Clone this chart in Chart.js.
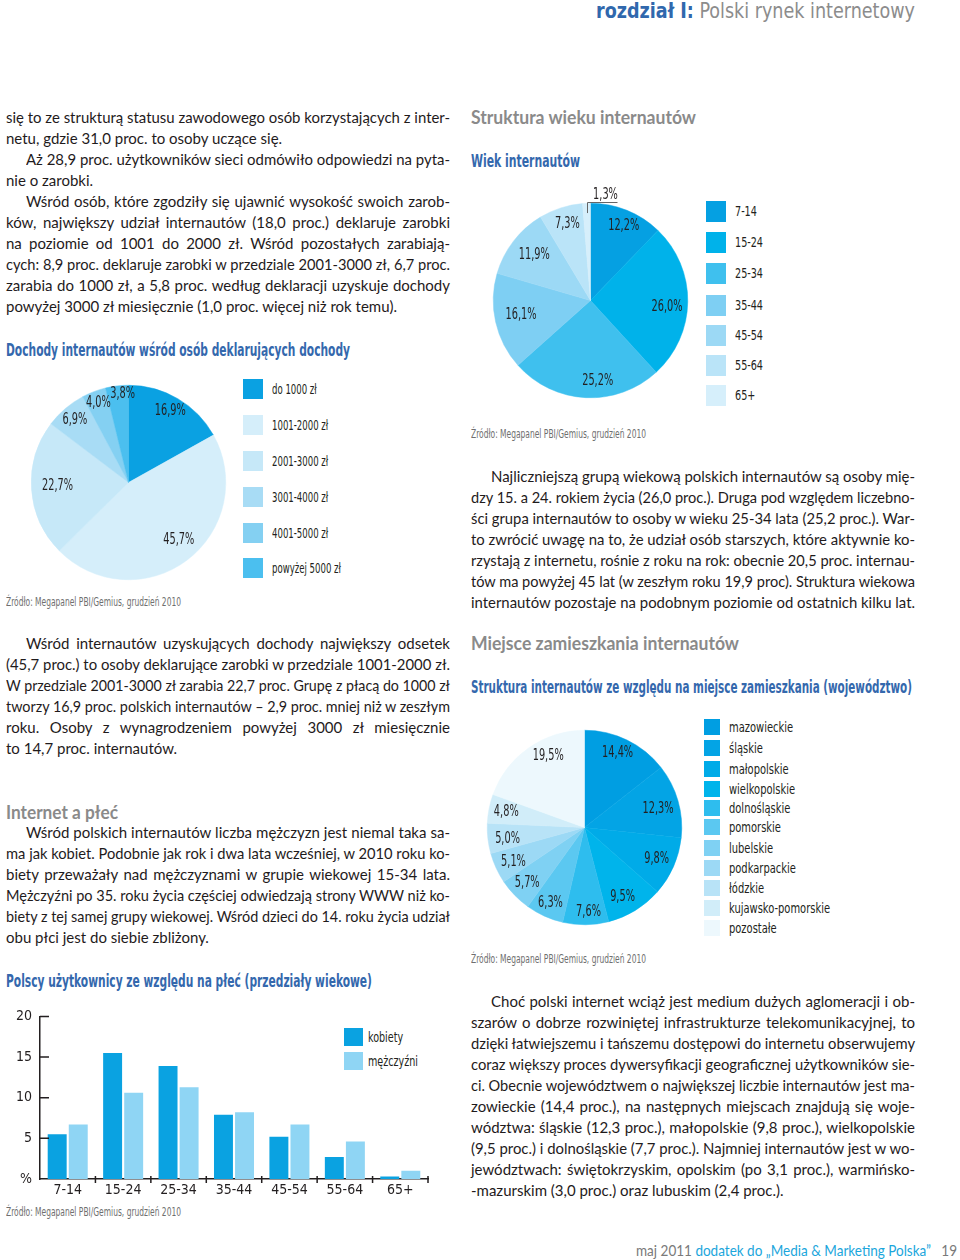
<!DOCTYPE html>
<html lang="pl"><head><meta charset="utf-8">
<script src="https://cdn.jsdelivr.net/npm/chart.js@4.4.1/dist/chart.umd.min.js"></script>
<style>
html,body{margin:0;padding:0;background:#fff}
body{width:960px;height:1260px;position:relative;overflow:hidden;font-family:Lato,'Open Sans',sans-serif;color:#231f20}
.t{position:absolute;white-space:nowrap;transform-origin:0 50%;line-height:1.3}
.body{font-size:15px;line-height:21px;color:#1f1b1c}
.cond{font-family:var(--cf)}
.title{font-family:var(--cf);font-weight:700;font-size:18px;color:#3468ad}
.head{font-family:Lato,sans-serif;font-weight:700;font-size:18px;color:#8a8a8a}
.src{font-family:var(--cf);font-size:12px;color:#6f6f6f}
.leg{font-family:var(--cf);font-size:14px;color:#231f20}
.sw{position:absolute}
canvas{position:absolute}
</style></head>
<body>
<script>
// ---------------- DATA ----------------
const incomeLabels = ['do 1000 zł','1001-2000 zł','2001-3000 zł','3001-4000 zł','4001-5000 zł','powyżej 5000 zł'];
const incomeValues = [16.9, 45.7, 22.7, 6.9, 4.0, 3.8];

const ageLabels = ['7-14','15-24','25-34','35-44','45-54','55-64','65+'];
const ageValues = [12.2, 26.0, 25.2, 16.1, 11.9, 7.3, 1.3];

const regionLabels = ['mazowieckie','śląskie','małopolskie','wielkopolskie','dolnośląskie','pomorskie','lubelskie','podkarpackie','łódzkie','kujawsko-pomorskie','pozostałe'];
const regionValues = [14.4, 12.3, 9.8, 9.5, 7.6, 6.3, 5.7, 5.1, 5.0, 4.8, 19.5];

const genderCategories = ['7-14','15-24','25-34','35-44','45-54','55-64','65+'];
const genderSeries = ['kobiety','mężczyźni'];
const womenValues = [5.5, 15.5, 13.9, 7.9, 5.2, 2.7, 0.3];
const menValues   = [6.7, 10.6, 11.3, 8.2, 6.7, 4.6, 1.0];
const genderYMax = 20, genderYStep = 5;

// ---------------- STYLES ----------------
const incomeColors = ['#0aa1e2','#d5eefa','#c6e8f8','#a8dcf5','#84d0f2','#4bbfef'];
const incomeLabelR = [0.85, 0.79, 0.73, 0.85, 0.87, 0.91];
const incomeLabelDA = [0, -4, 1, 0, 0, 3];
const ageColors = ['#05a0e2','#00b2ea','#3fc0ee','#7ecff3','#9cd9f5','#bae4f8','#d6effb'];
const ageLabelR = [0.84, 0.79, 0.83, 0.73, 0.74, 0.82, null];
const ageLabelDA = [2, 4, -8, 1, 1, 1, 0];
const regionColors = ['#009ee2','#03a4e5','#00abe8','#00b4eb','#2ebdee','#5bc8f1','#7fd1f3','#9cd9f5','#b8e3f7','#d1edf9','#edf8fd'];
const regionLabelR = [0.84, 0.78, 0.81, 0.82, 0.87, 0.85, 0.82, 0.81, 0.80, 0.82, 0.82];
const regionLabelDA = [-2, 2, 0, 3, -2, 0, 0, -1, -2, 0, 8];
const TXT = '#231f20';

// ---------------- FONT DETECTION ----------------
function hasFont(f){
  const c=document.createElement('canvas').getContext('2d');const s='abcdefghijklmnopqrstuvwxyz0123456789';
  c.font='40px monospace';const a=c.measureText(s).width;c.font='40px "'+f+'", monospace';const b=c.measureText(s).width;
  c.font='40px serif';const a2=c.measureText(s).width;c.font='40px "'+f+'", serif';const b2=c.measureText(s).width;
  return a!==b || a2!==b2;
}
const CF = ['Liberation Sans Narrow','DejaVu Sans Condensed','Roboto Condensed'].find(hasFont) || 'Lato';
const CFS = '"'+CF+'", Lato, sans-serif';
document.documentElement.style.setProperty('--cf', CFS);
const mctx=document.createElement('canvas').getContext('2d');
mctx.font='15px '+CFS;
const LSX = 31/mctx.measureText('45,7%').width;

// ---------------- TEXT HELPERS ----------------
function T(html,x,y,o){
  o=o||{};
  const d=document.createElement('div');d.className='t '+(o.c||'');d.innerHTML=html;
  if(o.fs)d.style.fontSize=o.fs+'px';
  d.style.left=x+'px';document.body.appendChild(d);
  d.style.top=(y-d.offsetHeight/2)+'px';
  if(o.w){d.style.transform='scaleX('+(o.w/d.getBoundingClientRect().width)+')';}
  else if(o.sx){d.style.transform='scaleX('+o.sx+')';}
  return d;
}
function natW(txt,cls){const d=T(txt,0,-100,{c:cls});const w=d.getBoundingClientRect().width;d.remove();return w;}
function para(x,y0,W,lines){
  lines.forEach((s,i)=>{
    let ind=0,last=false;
    if(s[0]==='>'){ind=20;s=s.slice(1);}
    if(s.endsWith('|')){last=true;s=s.slice(0,-1);}
    const d=document.createElement('div');d.className='t body';
    const sp=document.createElement('span');sp.textContent=s;d.appendChild(sp);
    d.style.left=(x+ind)+'px';d.style.top=(y0+i*21-11)+'px';document.body.appendChild(d);
    const avail=W-ind;const nat=sp.getBoundingClientRect().width;
    if(nat>avail){d.style.transform='scaleX('+(avail/nat)+')';}
    else if(!last){const n=(s.match(/ /g)||[]).length;if(n)sp.style.wordSpacing=((avail-nat)/n)+'px';}
  });
}
function legend(labels,colors,x,ys,sw,sh,tx,cls,longest,longestW){
  const sx=longestW/natW(longest,cls);
  labels.forEach((l,i)=>{
    const s=document.createElement('div');s.className='sw';
    s.style.cssText='left:'+x+'px;top:'+(ys[i]-sh/2)+'px;width:'+sw+'px;height:'+sh+'px;background:'+colors[i];
    document.body.appendChild(s);
    T(l,tx,ys[i],{c:cls,sx:sx});
  });
}

// ---------------- PAGE TEXT ----------------
T('<b style="color:#3068ad">rozdział I:</b> <span style="color:#8c8c8c">Polski rynek internetowy</span>',596,11,{c:'cond',fs:21,w:319});

para(6,118,444,[
 'się to ze strukturą statusu zawodowego osób korzystających z inter-',
 'netu, gdzie 31,0 proc. to osoby uczące się.|',
 '>Aż 28,9 proc. użytkowników sieci odmówiło odpowiedzi na pyta-',
 'nie o zarobki.|',
 '>Wśród osób, które zgodziły się ujawnić wysokość swoich zarob-',
 'ków, największy udział internautów (18,0 proc.) deklaruje zarobki',
 'na poziomie od 1001 do 2000 zł. Wśród pozostałych zarabiają-',
 'cych: 8,9 proc. deklaruje zarobki w przedziale 2001-3000 zł, 6,7 proc.',
 'zarabia do 1000 zł, a 5,8 proc. według deklaracji uzyskuje dochody',
 'powyżej 3000 zł miesięcznie (1,0 proc. więcej niż rok temu).|'
]);
T('Dochody internautów wśród osób deklarujących dochody',6,349,{c:'title',w:344});
T('Źródło: Megapanel PBI/Gemius, grudzień 2010',6,603,{c:'src',w:175});
para(6,644,444,[
 '>Wśród internautów uzyskujących dochody największy odsetek',
 '(45,7 proc.) to osoby deklarujące zarobki w przedziale 1001-2000 zł.',
 'W przedziale 2001-3000 zł zarabia 22,7 proc. Grupę z płacą do 1000 zł',
 'tworzy 16,9 proc. polskich internautów – 2,9 proc. mniej niż w zeszłym',
 'roku. Osoby z wynagrodzeniem powyżej 3000 zł miesięcznie',
 'to 14,7 proc. internautów.|'
]);
T('Internet a płeć',6,812,{c:'head',w:112});
para(6,833,444,[
 '>Wśród polskich internautów liczba mężczyzn jest niemal taka sa-',
 'ma jak kobiet. Podobnie jak rok i dwa lata wcześniej, w 2010 roku ko-',
 'biety przeważały nad mężczyznami w grupie wiekowej 15-34 lata.',
 'Mężczyźni po 35. roku życia częściej odwiedzają strony WWW niż ko-',
 'biety z tej samej grupy wiekowej. Wśród dzieci do 14. roku życia udział',
 'obu płci jest do siebie zbliżony.|'
]);
T('Polscy użytkownicy ze względu na płeć (przedziały wiekowe)',6,980,{c:'title',w:366});
T('Źródło: Megapanel PBI/Gemius, grudzień 2010',6,1213,{c:'src',w:175});

T('Struktura wieku internautów',471,117,{c:'head',w:225});
T('Wiek internautów',471,160,{c:'title',w:109});
T('Źródło: Megapanel PBI/Gemius, grudzień 2010',471,435,{c:'src',w:175});
para(471,477,444,[
 '>Najliczniejszą grupą wiekową polskich internautów są osoby mię-',
 'dzy 15. a 24. rokiem życia (26,0 proc.). Druga pod względem liczebno-',
 'ści grupa internautów to osoby w wieku 25-34 lata (25,2 proc.). War-',
 'to zwrócić uwagę na to, że udział osób starszych, które aktywnie ko-',
 'rzystają z internetu, rośnie z roku na rok: obecnie 20,5 proc. internau-',
 'tów ma powyżej 45 lat (w zeszłym roku 19,9 proc). Struktura wiekowa',
 'internautów pozostaje na podobnym poziomie od ostatnich kilku lat.'
]);
T('Miejsce zamieszkania internautów',471,643,{c:'head',w:268});
T('Struktura internautów ze względu na miejsce zamieszkania (województwo)',471,686,{c:'title',w:441});
T('Źródło: Megapanel PBI/Gemius, grudzień 2010',471,960,{c:'src',w:175});
para(471,1002,444,[
 '>Choć polski internet wciąż jest medium dużych aglomeracji i ob-',
 'szarów o dobrze rozwiniętej infrastrukturze telekomunikacyjnej, to',
 'dzięki łatwiejszemu i tańszemu dostępowi do internetu obserwujemy',
 'coraz większy proces dywersyfikacji geograficznej użytkowników sie-',
 'ci. Obecnie województwem o największej liczbie internautów jest ma-',
 'zowieckie (14,4 proc.), na następnych miejscach znajdują się woje-',
 'wództwa: śląskie (12,3 proc.), małopolskie (9,8 proc.), wielkopolskie',
 '(9,5 proc.) i dolnośląskie (7,7 proc.). Najmniej internautów jest w wo-',
 'jewództwach: świętokrzyskim, opolskim (po 3,1 proc.), warmińsko-',
 '-mazurskim (3,0 proc.) oraz lubuskim (2,4 proc.).|'
]);
T('<span style="color:#7a7a7a">maj 2011</span> <span style="color:#1ba6dc">dodatek do „Media &amp; Marketing Polska”</span>&nbsp;&nbsp; <span style="color:#7a7a7a">19</span>',636,1250,{c:'body',w:321});

// legends
legend(incomeLabels,incomeColors,243,[389,425,461,497,533,568],20,20,272,'leg','powyżej 5000 zł',69);
legend(ageLabels,ageColors,706,[211,242,273,305,335,365,395],20,21,735,'leg','15-24',28);
legend(regionLabels,regionColors,704,[727,748,769,789,808,827,848,868,888,908,928],16,16,729,'leg','kujawsko-pomorskie',101);
legend(genderSeries,['#0aa2e1','#8fd5f4'],344,[1037,1061],19,18,368,'leg','mężczyźni',50);

// ---------------- CHARTS ----------------
function fmt(v){return v.toFixed(1).replace('.',',')+'%';}
function cText(ctx,t,x,y){ctx.save();ctx.translate(x,y);ctx.scale(LSX,1);ctx.fillText(t,0,0);ctx.restore();}
const pieLabelPlugin={
  id:'pieLabels',
  afterDatasetsDraw(chart,args,opts){
    const ctx=chart.ctx,meta=chart.getDatasetMeta(0),vals=chart.data.datasets[0].data;
    ctx.save();ctx.fillStyle=TXT;ctx.font='15px '+CFS;ctx.textAlign='center';ctx.textBaseline='middle';
    meta.data.forEach((arc,i)=>{
      const p=arc.getProps(['x','y','startAngle','endAngle','outerRadius'],true);
      const mid=(p.startAngle+p.endAngle)/2+(opts.da[i]||0)*Math.PI/180,t=fmt(vals[i]),f=opts.radii[i];
      if(f==null){
        const a=(p.startAngle+p.endAngle)/2;
        const sx=Math.round(p.x+Math.cos(a)*p.outerRadius*0.9)+0.5,sy=p.y+Math.sin(a)*p.outerRadius*0.9;
        const ty=Math.round(p.y-p.outerRadius-1)+0.5;
        ctx.strokeStyle='#666';ctx.lineWidth=1;ctx.beginPath();ctx.moveTo(sx,sy);ctx.lineTo(sx,ty);ctx.lineTo(sx+30,ty);ctx.stroke();
        cText(ctx,t,sx+18,ty-7);
      } else {
        cText(ctx,t,p.x+Math.cos(mid)*p.outerRadius*f,p.y+Math.sin(mid)*p.outerRadius*f);
      }
    });
    ctx.restore();
  }
};
function pie(id,labels,values,colors,radii,da,left,top,size){
  const c=document.createElement('canvas');c.id=id;c.width=size;c.height=size;
  c.style.left=left+'px';c.style.top=top+'px';document.body.appendChild(c);
  return new Chart(c,{type:'pie',
    data:{labels:labels,datasets:[{data:values,backgroundColor:colors,borderColor:colors,borderWidth:0.5}]},
    options:{responsive:false,animation:false,layout:{padding:20},
      plugins:{legend:{display:false},tooltip:{enabled:false},pieLabels:{radii:radii,da:da}}},
    plugins:[pieLabelPlugin]});
}
pie('incomePie',incomeLabels,incomeValues,incomeColors,incomeLabelR,incomeLabelDA,11,365,235);
pie('agePie',ageLabels,ageValues,ageColors,ageLabelR,ageLabelDA,473,183,235);
pie('regionPie',regionLabels,regionValues,regionColors,regionLabelR,regionLabelDA,467,710,235);

// bar chart
const axisTicks={id:'axisTicks',afterDraw(ch){
  const ctx=ch.ctx,x=ch.scales.x,y=ch.scales.y;
  ctx.save();ctx.strokeStyle=TXT;ctx.lineWidth=1.5;ctx.beginPath();
  y.ticks.forEach(t=>{if(t.value===0)return;const py=y.getPixelForValue(t.value);ctx.moveTo(y.right,py);ctx.lineTo(y.right+9,py);});
  const n=x.ticks.length,step=(x.right-x.left)/n;
  for(let i=1;i<=n;i++){const px=x.left+step*i;ctx.moveTo(px,x.top-3);ctx.lineTo(px,x.top+4);}
  ctx.stroke();ctx.restore();
}};
(function(){
  const c=document.createElement('canvas');c.id='genderBar';c.width=440;c.height=205;
  c.style.left='0px';c.style.top='1000px';document.body.appendChild(c);
  const fs=(CF==='Lato')?13:14;
  new Chart(c,{type:'bar',
    data:{labels:genderCategories,datasets:[
      {label:genderSeries[0],data:womenValues,backgroundColor:'#0aa2e1'},
      {label:genderSeries[1],data:menValues,backgroundColor:'#8fd5f4'}]},
    options:{responsive:false,animation:false,
      layout:{padding:{top:16,right:12,left:0,bottom:0}},
      datasets:{bar:{categoryPercentage:0.76,barPercentage:0.9}},
      plugins:{legend:{display:false},tooltip:{enabled:false}},
      scales:{
        x:{grid:{display:false,drawTicks:false},border:{color:TXT,width:1.5},
           ticks:{color:TXT,font:{family:CFS,size:fs},padding:3},afterFit(s){s.height=26;}},
        y:{min:0,max:genderYMax,grid:{display:false,drawTicks:false},border:{color:TXT,width:1.5},
           ticks:{stepSize:genderYStep,padding:8,color:TXT,font:{family:CFS,size:fs},callback:v=>v===0?'%':v},
           afterFit(s){s.width=40;}}
      }},
    plugins:[axisTicks]});
})();
</script>
</body></html>
